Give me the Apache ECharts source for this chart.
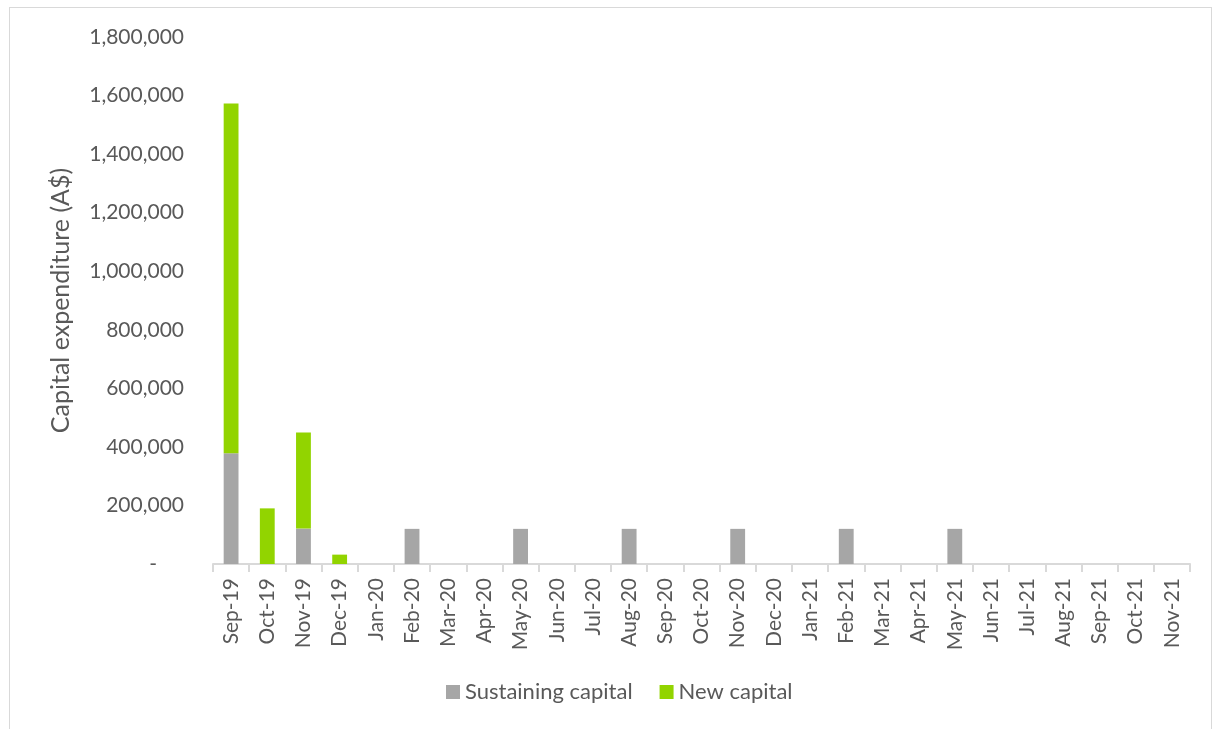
<!DOCTYPE html>
<html>
<head>
<meta charset="utf-8">
<script src="https://cdn.jsdelivr.net/npm/echarts@6/dist/echarts.min.js"></script>
<style>
  html, body { margin: 0; padding: 0; background: #fff; }
  #frame {
    position: absolute; left: 9px; top: 7px; width: 1203px; height: 730px;
    border: 1px solid #d9d9d9; box-sizing: border-box;
  }
  #myChart { position: absolute; left: 0; top: 0; width: 1214px; height: 729px; }
</style>
</head>
<body>
<div id="frame"></div>
<div id="myChart"></div>
<script>
// categories and values
const months = ['Sep-19', 'Oct-19', 'Nov-19', 'Dec-19', 'Jan-20', 'Feb-20', 'Mar-20', 'Apr-20', 'May-20',
  'Jun-20', 'Jul-20', 'Aug-20', 'Sep-20', 'Oct-20', 'Nov-20', 'Dec-20', 'Jan-21', 'Feb-21', 'Mar-21',
  'Apr-21', 'May-21', 'Jun-21', 'Jul-21', 'Aug-21', 'Sep-21', 'Oct-21', 'Nov-21']
const sustaining = [378000, 0, 121000, 0, 0, 120000, 0, 0, 120000, 0, 0, 120000, 0, 0, 120000, 0, 0,
  120000, 0, 0, 120000, 0, 0, 0, 0, 0, 0]
const newCapital = [1195000, 190000, 328000, 32000, 0, 0, 0, 0, 0, 0, 0, 0, 0, 0, 0, 0, 0, 0, 0, 0, 0,
  0, 0, 0, 0, 0, 0]
const yTicks = { min: 0, max: 1800000, interval: 200000 }

const font = 'Lato, "Open Sans", sans-serif'
const textColor = '#595959'

let myChart = echarts.init(document.getElementById('myChart'))
myChart.setOption({
  animation: false,
  textStyle: { fontFamily: font },
  grid: { left: 213, right: 24, top: 37, bottom: 165 },
  legend: {
    bottom: 21,
    left: 441,
    itemWidth: 14,
    itemHeight: 14,
    itemGap: 27,
    icon: 'rect',
    textStyle: { fontSize: 22, color: textColor, fontFamily: font },
    data: ['Sustaining capital', 'New capital']
  },
  xAxis: {
    type: 'category',
    data: months,
    axisLine: { lineStyle: { color: '#d9d9d9', width: 2 } },
    axisTick: { show: true, length: 8, lineStyle: { color: '#d9d9d9', width: 2 } },
    axisLabel: { rotate: 90, fontSize: 21, color: textColor, margin: 14, fontFamily: font }
  },
  yAxis: {
    type: 'value',
    min: yTicks.min,
    max: yTicks.max,
    interval: yTicks.interval,
    name: 'Capital expenditure (A$)',
    nameLocation: 'middle',
    nameGap: 140,
    nameTextStyle: { fontSize: 25, color: textColor, fontFamily: font },
    splitLine: { show: false },
    axisLine: { show: false },
    axisTick: { show: false },
    axisLabel: {
      fontSize: 21,
      color: textColor,
      margin: 29,
      fontFamily: font,
      formatter: v => v === 0 ? '-     ' : v.toLocaleString('en-US')
    }
  },
  series: [
    {
      name: 'Sustaining capital',
      type: 'bar',
      stack: 'capex',
      barWidth: '41%',
      itemStyle: { color: '#a6a6a6' },
      data: sustaining
    },
    {
      name: 'New capital',
      type: 'bar',
      stack: 'capex',
      itemStyle: { color: '#92d400' },
      data: newCapital
    }
  ]
})
</script>
</body>
</html>
